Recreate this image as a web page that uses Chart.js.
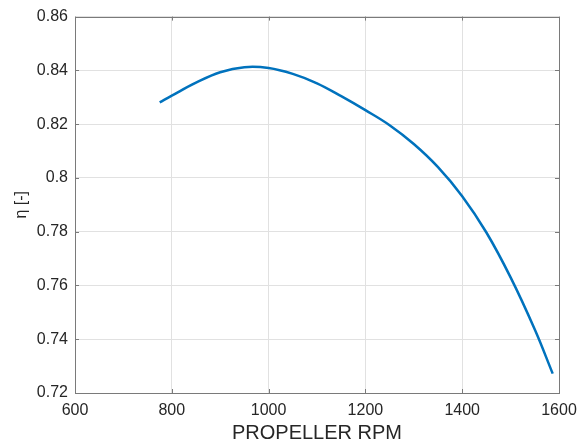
<!DOCTYPE html>
<html>
<head>
<meta charset="utf-8">
<script src="https://cdn.jsdelivr.net/npm/chart.js@4/dist/chart.umd.min.js"></script>
<style>
  html, body { margin: 0; padding: 0; background: #fff; }
  #wrap { width: 585px; height: 448px; }
</style>
</head>
<body>
<div id="wrap"><canvas id="grafico"></canvas></div>
<script>
// ===== DADOS =====
const rpm = [775, 800, 850, 900, 950, 1000, 1050, 1100, 1150, 1200, 1250, 1300, 1350, 1400, 1450, 1500, 1550, 1587];
const eta = [0.8281, 0.8306, 0.8354, 0.8393, 0.8412, 0.8409, 0.8387, 0.8352, 0.8304, 0.8252, 0.8196, 0.8126, 0.804, 0.7932, 0.7797, 0.763, 0.7436, 0.7272];

const xTicks = [600, 800, 1000, 1200, 1400, 1600];
const yTicks = [0.72, 0.74, 0.76, 0.78, 0.8, 0.82, 0.84, 0.86];

const corTexto = '#262626';
const corEixo  = '#7a7a7a';
const corGrade = '#e1e1e1';

// caixa + ticks para dentro (estilo matlab)
const caixaPlugin = {
  id: 'caixa',
  afterDatasetsDraw(chart) {
    const { ctx, chartArea: a, scales: { x, y } } = chart;
    const len = 4;
    ctx.save();
    ctx.strokeStyle = corEixo;
    ctx.lineWidth = 1;
    ctx.beginPath();
    xTicks.forEach(v => {
      const px = Math.round(x.getPixelForValue(v)) + 0.5;
      ctx.moveTo(px, a.bottom); ctx.lineTo(px, a.bottom - len);
      ctx.moveTo(px, a.top);    ctx.lineTo(px, a.top + len);
    });
    yTicks.forEach(v => {
      const py = Math.round(y.getPixelForValue(v)) + 0.5;
      ctx.moveTo(a.left, py);  ctx.lineTo(a.left + len, py);
      ctx.moveTo(a.right, py); ctx.lineTo(a.right - len, py);
    });
    ctx.stroke();
    ctx.strokeRect(Math.round(a.left) + 0.5, Math.round(a.top) + 0.5,
                   Math.round(a.right - a.left), Math.round(a.bottom - a.top));
    ctx.restore();
  }
};

const fonte = { family: '"Liberation Sans", Arial, sans-serif', size: 16 };

new Chart(document.getElementById('grafico'), {
  type: 'scatter',
  data: {
    datasets: [{
      data: rpm.map((r, i) => ({ x: r, y: eta[i] })),
      showLine: true,
      borderColor: '#0072BD',
      borderWidth: 2.5,
      pointRadius: 0,
      tension: 0.4,
      fill: false
    }]
  },
  options: {
    responsive: true,
    maintainAspectRatio: false,
    animation: false,
    layout: { padding: { top: 13, right: 26, bottom: 0, left: 0 } },
    plugins: { legend: { display: false }, tooltip: { enabled: false } },
    scales: {
      x: {
        type: 'linear',
        min: 600, max: 1600,
        afterBuildTicks: s => { s.ticks = xTicks.map(v => ({ value: v })); },
        afterFit: s => { s.height = 55; },
        grid: { color: corGrade, drawTicks: false },
        border: { display: false },
        ticks: { color: corTexto, font: fonte, padding: 8, maxRotation: 0, callback: v => String(v) },
        title: {
          display: true, text: 'PROPELLER RPM', color: corTexto,
          font: { family: fonte.family, size: 20 }, padding: { top: 0, bottom: 3 }
        }
      },
      y: {
        min: 0.72, max: 0.86,
        afterBuildTicks: s => { s.ticks = yTicks.map(v => ({ value: v })); },
        afterFit: s => { s.width = 75; },
        grid: { color: corGrade, drawTicks: false },
        border: { display: false },
        ticks: { color: corTexto, font: fonte, padding: 7, callback: v => String(+v.toFixed(2)) },
        title: {
          display: true, text: 'η [-]', color: corTexto,
          font: { family: fonte.family, size: 16 }, padding: { top: 12, bottom: 0 }
        }
      }
    }
  },
  plugins: [caixaPlugin]
});
</script>
</body>
</html>
